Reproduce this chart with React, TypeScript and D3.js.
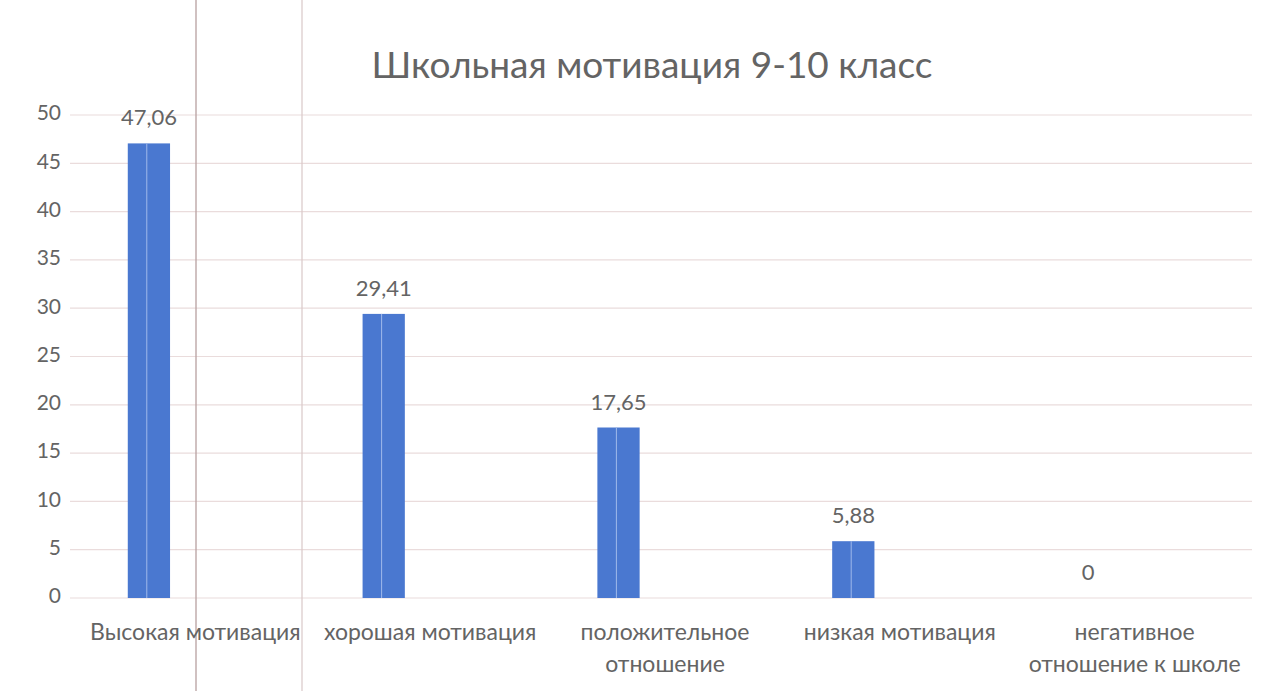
import React from "react";
import * as d3 from "d3";

// данные диаграммы
const categories = [
  "Высокая мотивация",
  "хорошая мотивация",
  "положительное отношение",
  "низкая мотивация",
  "негативное отношение к школе",
];
const values = [47.06, 29.41, 17.65, 5.88, 0];
const valueLabels = ["47,06", "29,41", "17,65", "5,88", "0"];
const yTicks = [0, 5, 10, 15, 20, 25, 30, 35, 40, 45, 50];

// переносы подписей категорий, как в Excel
const categoryLines = [
  ["Высокая мотивация"],
  ["хорошая мотивация"],
  ["положительное", "отношение"],
  ["низкая мотивация"],
  ["негативное", "отношение к школе"],
];

const size = {
  width: 1276,
  height: 691,
  left: 78,
  right: 1252,
  top: 115,
  bottom: 598,
};

const textColor = "#646464";
const barColor = "#4a78d0";
const gridColor = "#eadcdc";
const font = "Lato, 'Open Sans', sans-serif";

const App = () => {
  const x = d3
    .scaleBand()
    .domain(categories)
    .range([size.left, size.right]);
  const y = d3.scaleLinear().domain([0, 50]).range([size.bottom, size.top]);

  const barW = x.bandwidth() * 0.18;
  // столбец смещён влево от центра категории (пустые соседние ряды)
  const barX = (c) => x(c) + x.bandwidth() / 2 - barW * 1.6;

  return (
    <svg
      width={size.width}
      height={size.height}
      style={{ position: "absolute", left: 0, top: 0, background: "#fff" }}
    >
      {/* линии сетки */}
      {yTicks.map((t) => (
        <line
          key={t}
          x1={size.left - 8}
          x2={size.right}
          y1={y(t)}
          y2={y(t)}
          stroke={gridColor}
          strokeWidth={1.2}
        />
      ))}
      {yTicks.map((t) => (
        <text
          key={"t" + t}
          x={61}
          y={y(t)}
          textAnchor="end"
          dominantBaseline="middle"
          fontSize={21}
          fontFamily={font}
          fill={textColor}
        >
          {t}
        </text>
      ))}

      {/* следы сканирования */}
      <line x1={196} x2={196} y1={0} y2={size.height} stroke="#b7a0a0" strokeWidth={1.3} />
      <line x1={302} x2={302} y1={0} y2={size.height} stroke="#d9c8c8" strokeWidth={1.2} />

      {/* столбцы */}
      {values.map((v, i) => (
        <g key={i}>
          <rect
            x={barX(categories[i])}
            y={y(v)}
            width={barW}
            height={size.bottom - y(v)}
            fill={barColor}
          />
          {v > 0 && (
            <line
              x1={barX(categories[i]) + barW * 0.45}
              x2={barX(categories[i]) + barW * 0.45}
              y1={y(v)}
              y2={size.bottom}
              stroke="#9fb9ea"
              strokeWidth={1}
            />
          )}
          <text
            x={barX(categories[i]) + barW / 2}
            y={y(v) - 18}
            textAnchor="middle"
            fontSize={22}
            fontFamily={font}
            fill={textColor}
          >
            {valueLabels[i]}
          </text>
        </g>
      ))}

      {/* подписи категорий */}
      {categoryLines.map((lines, i) => (
        <text
          key={"c" + i}
          textAnchor="middle"
          fontSize={23}
          fontFamily={font}
          fill={textColor}
        >
          {lines.map((l, j) => (
            <tspan
              key={j}
              x={x(categories[i]) + x.bandwidth() / 2}
              y={640 + j * 32}
            >
              {l}
            </tspan>
          ))}
        </text>
      ))}

      <text
        x={652}
        y={78}
        textAnchor="middle"
        fontSize={37}
        fontFamily={font}
        fill={textColor}
      >
        Школьная мотивация 9-10 класс
      </text>
    </svg>
  );
};

export default App;
